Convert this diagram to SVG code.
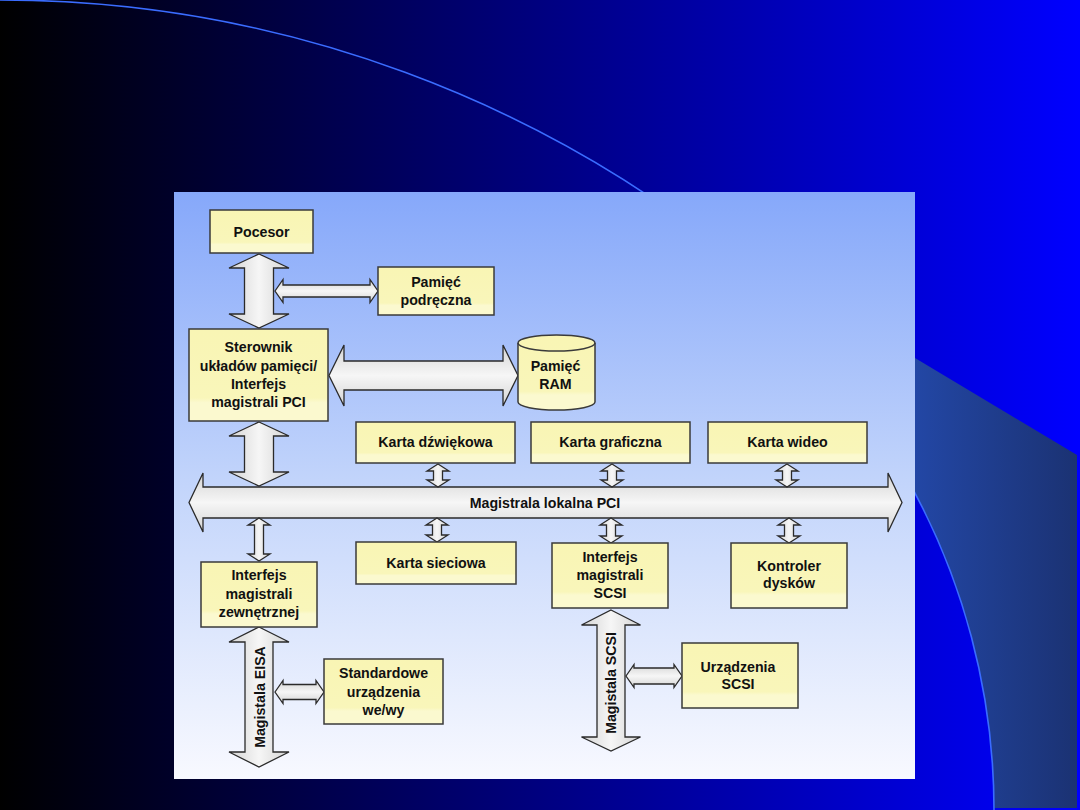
<svg xmlns="http://www.w3.org/2000/svg" width="1080" height="810" viewBox="0 0 1080 810">
<defs>
<linearGradient id="bg" x1="0" y1="0" x2="1" y2="0"><stop offset="0" stop-color="#000000"/><stop offset="1" stop-color="#0000ff"/></linearGradient>
<linearGradient id="band" x1="905" y1="0" x2="1077" y2="0" gradientUnits="userSpaceOnUse"><stop offset="0" stop-color="#2348a8"/><stop offset="1" stop-color="#1b3273"/></linearGradient>
<linearGradient id="panel" x1="0" y1="0" x2="0" y2="1"><stop offset="0" stop-color="#86a8fa"/><stop offset="0.5" stop-color="#c3d5fb"/><stop offset="1" stop-color="#f8f9ff"/></linearGradient>
<linearGradient id="box" x1="0" y1="0" x2="0" y2="1"><stop offset="0" stop-color="#f9f5b4"/><stop offset="0.75" stop-color="#f9f6ba"/><stop offset="0.8" stop-color="#fbf9cf"/><stop offset="1" stop-color="#fbf9cf"/></linearGradient>
<linearGradient id="av" x1="0" y1="0" x2="1" y2="0"><stop offset="0" stop-color="#d4d4d4"/><stop offset="0.5" stop-color="#f6f6f6"/><stop offset="1" stop-color="#d4d4d4"/></linearGradient>
<linearGradient id="ah" x1="0" y1="0" x2="0" y2="1"><stop offset="0" stop-color="#d4d4d4"/><stop offset="0.5" stop-color="#f6f6f6"/><stop offset="1" stop-color="#d4d4d4"/></linearGradient>
</defs>
<style>
.box{fill:url(#box);stroke:#3a3a3a;stroke-width:1.5}
.t{font-family:"Liberation Sans",Arial,sans-serif;font-weight:bold;font-size:14.2px;fill:#111;text-anchor:middle}
.av{fill:url(#av);stroke:#2a2a2a;stroke-width:1.3;stroke-linejoin:miter}
.ah{fill:url(#ah);stroke:#2a2a2a;stroke-width:1.3;stroke-linejoin:miter}
.arc{fill:none;stroke:#3a6cff;stroke-width:1.6}
</style>
<g id="background">
<rect x="0" y="0" width="1080" height="810" fill="url(#bg)"/>
<path d="M905,352 L1077,455 L1077,808 L994,808 A675.5,675.5 0 0 0 905,475 Z" fill="url(#band)"/>
<path class="arc" d="M994,810 A675.5,675.5 0 0 0 905,475"/>
<path class="arc" d="M0,0 A1172,1172 0 0 1 760,280"/>
<rect x="174" y="192" width="741" height="587" fill="url(#panel)"/>
</g>
<g id="connectors">
<path class="av" d="M259,254 L289,268 L273.5,268 L273.5,314 L289,314 L259,328 L229,314 L244.5,314 L244.5,268 L229,268 Z"/>
<path class="ah" d="M275,291 L283,279.5 L283,285 L370,285 L370,279.5 L378,291 L370,302.5 L370,297 L283,297 L283,302.5 Z"/>
<path class="ah" d="M329,375.5 L344,345 L344,361 L503,361 L503,345 L518,375.5 L503,406 L503,390 L344,390 L344,406 Z"/>
<path class="av" d="M259,422 L289,436 L273.5,436 L273.5,472 L289,472 L259,486 L229,472 L244.5,472 L244.5,436 L229,436 Z"/>
<path class="ah" d="M189,502.5 L203,473 L203,487 L888,487 L888,473 L902,502.5 L888,532 L888,518 L203,518 L203,532 Z"/>
<text class="t" x="545" y="507.5">Magistrala lokalna PCI</text>
<path class="av" d="M438,464 L449,471 L442.5,471 L442.5,480 L449,480 L438,487 L427,480 L433.5,480 L433.5,471 L427,471 Z"/>
<path class="av" d="M612,464 L623,471 L616.5,471 L616.5,480 L623,480 L612,487 L601,480 L607.5,480 L607.5,471 L601,471 Z"/>
<path class="av" d="M787,464 L798,471 L791.5,471 L791.5,480 L798,480 L787,487 L776,480 L782.5,480 L782.5,471 L776,471 Z"/>
<path class="av" d="M259,518 L270,525 L263.5,525 L263.5,554 L270,554 L259,561 L248,554 L254.5,554 L254.5,525 L248,525 Z"/>
<path class="av" d="M437,518 L448,525 L441.5,525 L441.5,535 L448,535 L437,542 L426,535 L432.5,535 L432.5,525 L426,525 Z"/>
<path class="av" d="M611,518 L622,525 L615.5,525 L615.5,536 L622,536 L611,543 L600,536 L606.5,536 L606.5,525 L600,525 Z"/>
<path class="av" d="M789,518 L800,525 L793.5,525 L793.5,536 L800,536 L789,543 L778,536 L784.5,536 L784.5,525 L778,525 Z"/>
<path class="av" d="M259,627 L289,642 L273,642 L273,752 L289,752 L259,767 L229,752 L245,752 L245,642 L229,642 Z"/>
<text class="t" transform="translate(264.5,697) rotate(-90)">Magistala EISA</text>
<path class="ah" d="M275,692 L283,680.5 L283,684.5 L316,684.5 L316,680.5 L324,692 L316,703.5 L316,699.5 L283,699.5 L283,703.5 Z"/>
<path class="av" d="M611,610 L640.5,625 L625,625 L625,737 L640.5,737 L611,751 L581.5,737 L597,737 L597,625 L581.5,625 Z"/>
<text class="t" transform="translate(616,683) rotate(-90)">Magistala SCSI</text>
<path class="ah" d="M626,676 L634,664.5 L634,668 L674,668 L674,664.5 L682,676 L674,687.5 L674,684 L634,684 L634,687.5 Z"/>
</g>
<g id="pocesor"><rect class="box" x="210" y="210" width="103" height="43"/><text class="t" x="261.5" y="236.5">Pocesor</text></g>
<g id="pamiec-podreczna"><rect class="box" x="378" y="267" width="116" height="48"/><text class="t" x="436" y="287">Pamięć</text><text class="t" x="436" y="304.5">podręczna</text></g>
<g id="sterownik"><rect class="box" x="189" y="329" width="139" height="92"/><text class="t" x="258.5" y="352">Sterownik</text><text class="t" x="258.5" y="370.5">układów pamięci/</text><text class="t" x="258.5" y="389">Interfejs</text><text class="t" x="258.5" y="407">magistrali PCI</text></g>
<g id="pamiec-ram"><path class="box" d="M518,343 L518,402 A38.5,8 0 0 0 595,402 L595,343 A38.5,8 0 0 0 518,343 Z"/><path d="M518,343 A38.5,8 0 0 0 595,343" fill="none" stroke="#3a3a3a" stroke-width="1.5"/><text class="t" x="555.5" y="370.5">Pamięć</text><text class="t" x="555.5" y="389">RAM</text></g>
<g id="karta-dzwiekowa"><rect class="box" x="356" y="422" width="159" height="41"/><text class="t" x="435.5" y="447">Karta dźwiękowa</text></g>
<g id="karta-graficzna"><rect class="box" x="531" y="422" width="159" height="41"/><text class="t" x="610.5" y="447">Karta graficzna</text></g>
<g id="karta-wideo"><rect class="box" x="708" y="422" width="159" height="41"/><text class="t" x="787.5" y="447">Karta wideo</text></g>
<g id="karta-sieciowa"><rect class="box" x="356" y="542" width="160" height="42"/><text class="t" x="436" y="568">Karta sieciowa</text></g>
<g id="interfejs-scsi"><rect class="box" x="552" y="543" width="116" height="65"/><text class="t" x="610" y="562">Interfejs</text><text class="t" x="610" y="580">magistrali</text><text class="t" x="610" y="598">SCSI</text></g>
<g id="kontroler-dyskow"><rect class="box" x="731" y="543" width="116" height="65"/><text class="t" x="789" y="571">Kontroler</text><text class="t" x="789" y="588">dysków</text></g>
<g id="interfejs-zewnetrznej"><rect class="box" x="201" y="562" width="116" height="65"/><text class="t" x="259" y="580">Interfejs</text><text class="t" x="259" y="598.5">magistrali</text><text class="t" x="259" y="617">zewnętrznej</text></g>
<g id="standardowe"><rect class="box" x="324" y="659" width="119" height="65"/><text class="t" x="383.5" y="678">Standardowe</text><text class="t" x="383.5" y="697">urządzenia</text><text class="t" x="383.5" y="715">we/wy</text></g>
<g id="urzadzenia-scsi"><rect class="box" x="682" y="643" width="116" height="65"/><text class="t" x="738" y="672">Urządzenia</text><text class="t" x="738" y="689">SCSI</text></g>
</svg>
